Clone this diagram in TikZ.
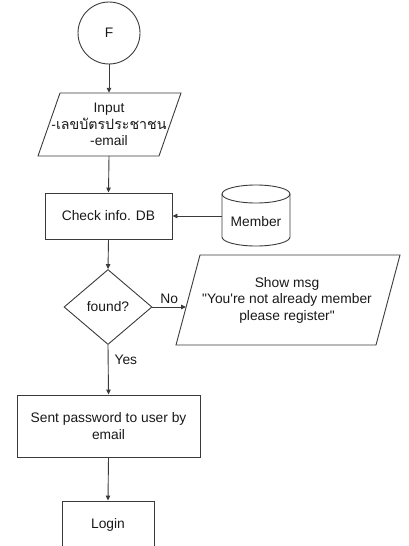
\documentclass[tikz,border=0pt]{standalone}
\usepackage{fontspec}
\setmainfont{Liberation Sans}[Ligatures=TeXOff]
\newfontfamily\thaifont[Script=Thai,Scale=1.03]{Loma}
\usetikzlibrary{shapes.geometric,arrows.meta}
\definecolor{ln}{HTML}{3A3A3A}
\begin{document}
\begin{tikzpicture}[x=1pt,y=-1pt,
  every node/.style={font=\fontsize{13.8}{16.5}\selectfont, text=black!90, inner sep=0pt},
  shp/.style={draw=ln, line width=0.9pt},
  box/.style={shp, rectangle},
  txt/.style={align=center},
  flow/.style={draw=ln, line width=0.9pt, -{Triangle[length=5pt,width=4.5pt]}},
  lbl/.style={font=\fontsize{13.8}{16.5}\selectfont}]
\useasboundingbox (0,0) rectangle (408,546);
\clip (0,0) rectangle (408,546);
% start
\node[shp, circle, minimum size=62pt] (F) at (109,33) {F};
% input
\draw[shp] (60,93) -- (181,93) -- (159,156) -- (38,156) -- cycle;
\node[txt, minimum height=63pt] (inp) at (109,124.5) {Input\\-{\thaifont เลขบัตรประชาชน}\\-email};
% check
\node[box, minimum width=127pt, minimum height=46pt] (chk) at (108.5,216) {Check info. DB};
% database
\draw[shp] (222,194) -- (222,237) arc[start angle=180, end angle=360, x radius=34pt, y radius=9pt] -- (290,194);
\draw[shp] (256,194) ellipse [x radius=34pt, y radius=9pt];
\node (db) at (256,222) {Member};
\coordinate (dbw) at (222,216);
% decision
\node[shp, diamond, minimum width=88pt, minimum height=75pt] (dia) at (108,307) {found?};
% message
\draw[shp] (200,255) -- (400,255) -- (376,345) -- (176,345) -- cycle;
\node[txt] (msg) at (287,300) {Show msg\\"You're not already member\\please register"};
\coordinate (msgin) at (186,307);
% sent
\node[box, txt, minimum width=183pt, minimum height=62pt] (sent) at (108.5,426) {Sent password to user by\\email};
% login
\node[box, minimum width=92pt, minimum height=47pt] (login) at (108,524.5) {Login};
% connectors
\draw[flow] (F) -- (inp.north);
\draw[flow] (inp.south) -- (chk.north);
\draw[flow] (dbw) -- (chk.east);
\draw[flow] (chk.south) -- (dia.north);
\draw[flow] (dia.east) -- node[above=3pt, pos=0.5, lbl] {No} (msgin);
\draw[flow] (dia.south) -- node[right=6pt, pos=0.3, lbl] {Yes} (sent.north);
\draw[flow] (sent.south) -- (login.north);
\end{tikzpicture}
\end{document}
